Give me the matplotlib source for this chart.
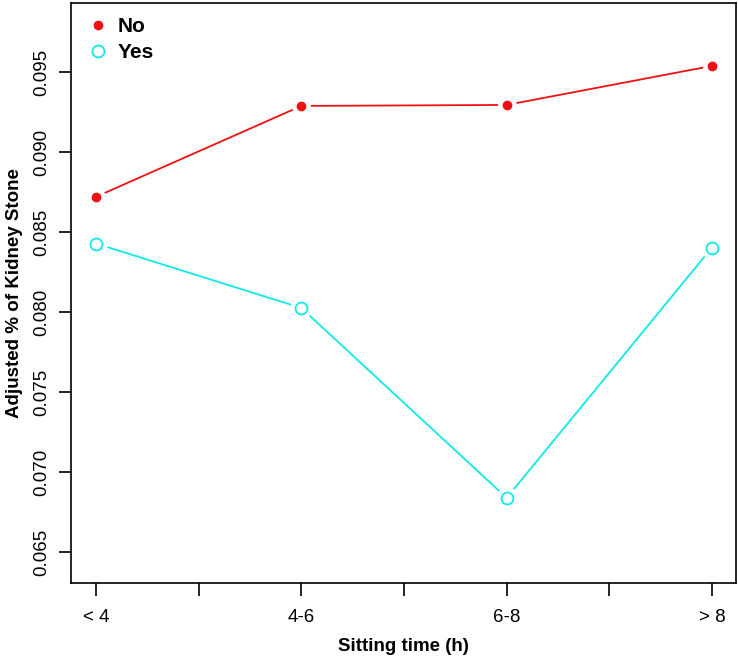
import matplotlib
matplotlib.use("Agg")
import matplotlib.pyplot as plt
from matplotlib.lines import Line2D

categories = ["< 4", "4-6", "6-8", "> 8"]
no_values = [0.0872, 0.09288, 0.09294, 0.09538]
yes_values = [0.08428, 0.08025, 0.06838, 0.08403]
y_ticks = [0.065, 0.070, 0.075, 0.080, 0.085, 0.090, 0.095]

RED = "#EE1111"
CYAN = "#11E8E8"

plt.rcParams["font.family"] = ["Liberation Sans", "DejaVu Sans"]

fig = plt.figure(figsize=(7.38, 6.59), dpi=100)
ax = fig.add_axes([0.0962, 0.1153, 0.9011, 0.8801])

x = list(range(1, len(categories) + 1))

# lines
ax.plot(x, no_values, color=RED, lw=1.3, zorder=2)
ax.plot(x, yes_values, color=CYAN, lw=1.3, zorder=2)
# gaps around points (R type="b")
ax.plot(x, no_values, ls="none", marker="o", ms=12.5, mfc="white", mec="white", zorder=3)
ax.plot(x, yes_values, ls="none", marker="o", ms=15, mfc="white", mec="white", zorder=3)
# points
ax.plot(x, no_values, ls="none", marker="o", ms=6, mfc=RED, mec=RED, zorder=4)
ax.plot(x, yes_values, ls="none", marker="o", ms=8.6, mfc="white", mec=CYAN, mew=1.3, zorder=4)

ax.set_xlim(0.878, 4.117)
ax.set_ylim(0.06306, 0.09931)

ax.set_xticks([1, 1.5, 2, 2.5, 3, 3.5, 4])
ax.set_xticklabels(["< 4", "", "4-6", "", "6-8", "", "> 8"])
ax.set_yticks(y_ticks)
ax.set_yticklabels([f"{v:.3f}" for v in y_ticks], rotation=90, va="center")

ax.tick_params(axis="both", direction="out", length=9, width=1.2, labelsize=13.5, color="black")
ax.tick_params(axis="x", pad=10)
ax.tick_params(axis="y", pad=6)
for s in ax.spines.values():
    s.set_linewidth(1.2)

ax.set_xlabel("Sitting time (h)", fontsize=13.5, fontweight="bold", labelpad=8)
ax.set_ylabel("Adjusted % of Kidney Stone", fontsize=13.5, fontweight="bold", labelpad=7)

handles = [
    Line2D([], [], ls="none", marker="o", ms=6, mfc=RED, mec=RED),
    Line2D([], [], ls="none", marker="o", ms=8.6, mfc="white", mec=CYAN, mew=1.3),
]
leg = ax.legend(handles, ["No", "Yes"], loc="upper left", frameon=False,
                prop={"weight": "bold", "size": 15}, handlelength=1.0,
                handletextpad=0.45, labelspacing=0.35, borderaxespad=0.0,
                bbox_to_anchor=(0.012, 0.99))

fig.savefig("out.png", dpi=100)
